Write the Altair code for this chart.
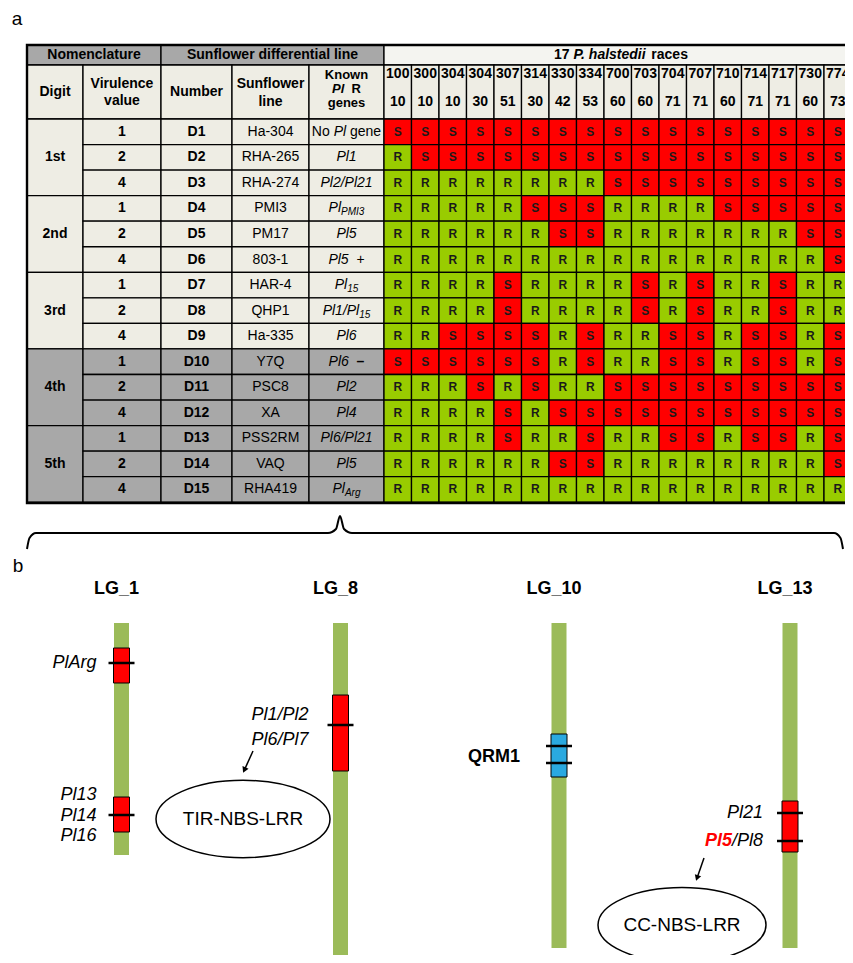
import math
import altair as alt
import pandas as pd

# ------------------------------------------------------------------ data
race_codes = ["100", "300", "304", "304", "307", "314", "330", "334", "700",
              "703", "704", "707", "710", "714", "717", "730", "774"]
race_subs = ["10", "10", "10", "30", "51", "30", "42", "53", "60",
             "60", "71", "71", "60", "71", "71", "60", "73"]
digit_groups = ["1st", "2nd", "3rd", "4th", "5th"]
virulence_values = ["1", "2", "4"] * 5
line_numbers = ["D1", "D2", "D3", "D4", "D5", "D6", "D7", "D8", "D9", "D10",
                "D11", "D12", "D13", "D14", "D15"]
sunflower_lines = ["Ha-304", "RHA-265", "RHA-274", "PMI3", "PM17", "803-1",
                   "HAR-4", "QHP1", "Ha-335", "Y7Q", "PSC8", "XA", "PSS2RM",
                   "VAQ", "RHA419"]
# (text, kind): n normal, i italic, s italic subscript, b bold
known_genes = [
    [("No ", "n"), ("Pl", "i"), (" gene", "n")],
    [("Pl1", "i")],
    [("Pl2/Pl21", "i")],
    [("Pl", "i"), ("PMI3", "s")],
    [("Pl5", "i")],
    [("Pl5", "i"), ("  +", "n")],
    [("Pl", "i"), ("15", "s")],
    [("Pl1/Pl", "i"), ("15", "s")],
    [("Pl6", "i")],
    [("Pl6", "i"), ("  –", "b")],
    [("Pl2", "i")],
    [("Pl4", "i")],
    [("Pl6/Pl21", "i")],
    [("Pl5", "i")],
    [("Pl", "i"), ("Arg", "s")],
]
reactions = [
    "SSSSSSSSSSSSSSSSS",
    "RSSSSSSSSSSSSSSSS",
    "RRRRRRRRSSSSSSSSS",
    "RRRRRSSSRRRRSSSSS",
    "RRRRRRSSRRRRRRRSS",
    "RRRRRRRRRRRRRRRRS",
    "RRRRSRRRRSRSRRSRR",
    "RRRRSRRRRSRSRRSRR",
    "RRSSSSRSRRSSRSSRS",
    "SSSSSSRSRRSSRSSRS",
    "RRRSRSRRSSSSSSSSS",
    "RRRRSRSSSSSSSSSSS",
    "RRRRSRRSRRSSRSSRS",
    "RRRRRRSSRRRRRRRRS",
    "RRRRRRRRRRRRRRRRR",
]

# panel b
lg_names = ["LG_1", "LG_8", "LG_10", "LG_13"]
lg_lengths = [232, 345, 325, 325]
block_lg = ["LG_1", "LG_1", "LG_8", "LG_10", "LG_13"]
block_start = [25, 174, 72, 111, 178]
block_end = [60, 209, 148, 154, 229]
block_type = ["Pl", "Pl", "Pl", "QRM", "Pl"]
marker_lg = ["LG_1", "LG_1", "LG_8", "LG_10", "LG_10", "LG_13", "LG_13"]
marker_pos = [40, 192, 102, 123, 140, 190, 218]
label_lg = ["LG_1", "LG_1", "LG_1", "LG_1", "LG_8", "LG_8", "LG_10", "LG_13", "LG_13"]
label_pos = [40, 172, 193, 213, 92, 117, 134, 190, 218]
label_segs = [
    [("PlArg", "i")], [("Pl13", "i")], [("Pl14", "i")], [("Pl16", "i")],
    [("Pl1/Pl2", "i")], [("Pl6/Pl7", "i")], [("QRM1", "b")],
    [("Pl21", "i")], [("Pl5", "ri"), ("/Pl8", "i")],
]
domain_names = ["TIR-NBS-LRR", "CC-NBS-LRR"]

# ------------------------------------------------------------------ styles / layout
FONT = "Liberation Sans"
GRAY = "#a8a8a8"
LIGHT = "#eeede4"
LIGHT2 = "#f4f4f0"
RED = "#ff0000"
GREEN = "#99cc00"
CHROM = "#9bbb59"
BLUE = "#2aa9e0"

W = 837  # chart width (image x 8 .. 845)
left_edges = [27, 83, 161, 232, 309, 384]
race_w = 27.5
row_top = 119
row_h = 25.55
lg_x = {"LG_1": 121.5, "LG_8": 340.5, "LG_10": 559, "LG_13": 790}
label_off = {"LG_1": -25, "LG_8": -32, "LG_10": -39, "LG_13": -27}
ellipse_xy = [(243, 196, 87), (682, 302, 84)]
arrows = [(253, 128, 243, 150), (704, 235, 696, 258)]

# Arial-metric widths
_up = "ABCDEFGHIJKLMNOPQRSTUVWXYZ"
_lo = "abcdefghijklmnopqrstuvwxyz"
REG = dict(zip(_up, [667, 667, 722, 722, 667, 611, 778, 722, 278, 500, 667, 556, 833,
                     722, 778, 667, 778, 722, 667, 611, 722, 667, 944, 667, 667, 611]))
REG.update(zip(_lo, [556, 556, 500, 556, 556, 278, 556, 556, 222, 222, 500, 222, 833,
                     556, 556, 556, 556, 333, 500, 278, 556, 500, 722, 500, 500, 500]))
BOLD = dict(zip(_up, [722, 722, 722, 722, 667, 611, 778, 722, 278, 556, 722, 611, 833,
                      722, 778, 667, 778, 722, 667, 611, 722, 667, 944, 667, 667, 611]))
BOLD.update(zip(_lo, [556, 611, 556, 611, 556, 333, 611, 611, 278, 278, 556, 278, 889,
                      611, 611, 611, 611, 389, 556, 333, 611, 556, 778, 556, 556, 500]))
for d in (REG, BOLD):
    d.update({" ": 278, "+": 584, "-": 333, "/": 278, ".": 278, ",": 278, "_": 556, "–": 556})
    d.update({c: 556 for c in "0123456789"})


def tw(s, size, weight):
    tab = BOLD if weight == "bold" else REG
    return sum(tab.get(c, 556) for c in s) * size / 1000.0


def put(store, x, y, t, size, weight="normal", style="normal", color="black", align="center"):
    store.append(dict(x=x, y=y, t=t, size=size, weight=weight, style=style,
                      color=color, align=align))


def put_segs(store, x, y, segs, align="center"):
    # segs: (text, size, weight, style, color, dy); edge spaces become offsets
    total = sum(tw(s[0], s[1], s[2]) for s in segs)
    cur = x - total / 2 if align == "center" else x - total
    for t, size, weight, style, color, dy in segs:
        core = t.strip(" ")
        lead = len(t) - len(t.lstrip(" "))
        cur += tw(" " * lead, size, weight)
        put(store, cur, y + dy, core, size, weight, style, color, "left")
        cur += tw(t, size, weight) - tw(" " * lead, size, weight)


def text_layers(store, xs, ys):
    df = pd.DataFrame(store)
    layers = []
    for (w, s, a), g in df.groupby(["weight", "style", "align"]):
        layers.append(
            alt.Chart(g).mark_text(font=FONT, fontWeight=w, fontStyle=s, align=a,
                                   baseline="middle", clip=True).encode(
                x=alt.X("x:Q", scale=xs, axis=None),
                y=alt.Y("y:Q", scale=ys, axis=None),
                text="t:N",
                size=alt.Size("size:Q", scale=None, legend=None),
                color=alt.Color("color:N", scale=None, legend=None),
            )
        )
    return layers


def rect_layer(df, xs, ys, **mk):
    return alt.Chart(df).mark_rect(clip=True, **mk).encode(
        x=alt.X("x:Q", scale=xs, axis=None), x2="x2:Q",
        y=alt.Y("y:Q", scale=ys, axis=None), y2="y2:Q",
        color=alt.Color("fill:N", scale=None, legend=None),
    )


KIND = {"n": (14, "normal", "normal", "black", 0),
        "i": (14, "normal", "italic", "black", 0),
        "s": (10, "normal", "italic", "black", 4),
        "b": (14, "bold", "normal", "black", 0)}

# ------------------------------------------------------------------ panel a
xs_a = alt.Scale(domain=[8, 8 + W], nice=False, zero=False)
ys_a = alt.Scale(domain=[8, 555], nice=False, zero=False, reverse=True)


def rx(j):
    return left_edges[-1] + j * race_w


def ry(i):
    return row_top + i * row_h


race_right = rx(len(race_codes))
cells = [dict(x=27, x2=161, y=45, y2=65, fill=GRAY),
         dict(x=161, x2=384, y=45, y2=65, fill=GRAY),
         dict(x=384, x2=race_right, y=45, y2=65, fill=LIGHT2)]
for k in range(5):
    cells.append(dict(x=left_edges[k], x2=left_edges[k + 1], y=65, y2=row_top, fill=LIGHT))
for j in range(len(race_codes)):
    cells.append(dict(x=rx(j), x2=rx(j + 1), y=65, y2=row_top, fill=LIGHT))
for g in range(len(digit_groups)):
    cells.append(dict(x=left_edges[0], x2=left_edges[1], y=ry(3 * g), y2=ry(3 * g + 3),
                      fill=LIGHT if g < 3 else GRAY))
for i in range(len(line_numbers)):
    for k in range(1, 5):
        cells.append(dict(x=left_edges[k], x2=left_edges[k + 1], y=ry(i), y2=ry(i + 1),
                          fill=LIGHT if i < 9 else GRAY))
grid = []
for i, row in enumerate(reactions):
    for j, r in enumerate(row):
        grid.append(dict(x=rx(j), x2=rx(j + 1), y=ry(i), y2=ry(i + 1),
                         fill=RED if r == "S" else GREEN,
                         cx=rx(j) + race_w / 2, cy=ry(i) + row_h / 2, t=r))
grid_df = pd.DataFrame(grid)

ta = []
put(ta, 17, 19, "a", 19)
put(ta, 94, 55, "Nomenclature", 14, "bold")
put(ta, 272.5, 55, "Sunflower differential line", 14, "bold")
put_segs(ta, 621, 55,
         [("17 ", 14, "bold", "normal", "black", 0),
          ("P. halstedii", 14, "bold", "italic", "black", 0),
          (" races", 14, "bold", "normal", "black", 0)])
cxs = [(left_edges[k] + left_edges[k + 1]) / 2 for k in range(5)]
put(ta, cxs[0], 92, "Digit", 14, "bold")
put(ta, cxs[1], 84, "Virulence", 14, "bold")
put(ta, cxs[1], 101, "value", 14, "bold")
put(ta, cxs[2], 92, "Number", 14, "bold")
put(ta, cxs[3], 84, "Sunflower", 14, "bold")
put(ta, cxs[3], 102, "line", 14, "bold")
put(ta, cxs[4], 75, "Known", 13, "bold")
put_segs(ta, cxs[4], 89, [("Pl", 13, "bold", "italic", "black", 0),
                          ("  R", 13, "bold", "normal", "black", 0)])
put(ta, cxs[4], 103, "genes", 13, "bold")
for j, (c, s) in enumerate(zip(race_codes, race_subs)):
    put(ta, rx(j) + race_w / 2, 74, c, 14, "bold")
    put(ta, rx(j) + race_w / 2, 102, s, 14, "bold")
for g, d in enumerate(digit_groups):
    put(ta, cxs[0], ry(3 * g) + 1.5 * row_h, d, 14, "bold")
for i in range(len(line_numbers)):
    cy = ry(i) + row_h / 2
    put(ta, cxs[1], cy, virulence_values[i], 14, "bold")
    put(ta, cxs[2], cy, line_numbers[i], 14, "bold")
    put(ta, cxs[3], cy, sunflower_lines[i], 14)
    put_segs(ta, cxs[4], cy, [(t,) + KIND[k][:4] + (KIND[k][4],) for t, k in known_genes[i]])

brace = pd.DataFrame(dict(
    bx=[27, 29.5, 36, 328, 336, 340, 344, 352, 834, 840.5, 843],
    by=[549, 538, 533, 533, 529, 516, 529, 533, 533, 538, 549]))

panel_a = alt.layer(
    rect_layer(pd.DataFrame(cells), xs_a, ys_a, stroke="black", strokeWidth=1.3),
    rect_layer(grid_df, xs_a, ys_a, stroke="black", strokeWidth=1.3),
    alt.Chart(pd.DataFrame([dict(x=27, x2=race_right, y=45, y2=503)])).mark_rect(
        clip=True, fillOpacity=0, stroke="black", strokeWidth=2.4).encode(
        x=alt.X("x:Q", scale=xs_a, axis=None), x2="x2:Q",
        y=alt.Y("y:Q", scale=ys_a, axis=None), y2="y2:Q"),
    alt.Chart(grid_df).mark_text(font=FONT, fontWeight="bold", fontSize=12,
                                 color="#1a1a1a", clip=True, baseline="middle").encode(
        x=alt.X("cx:Q", scale=xs_a, axis=None),
        y=alt.Y("cy:Q", scale=ys_a, axis=None), text="t:N"),
    alt.Chart(brace).mark_line(color="black", strokeWidth=2, interpolate="monotone",
                               clip=True).encode(
        x=alt.X("bx:Q", scale=xs_a, axis=None),
        y=alt.Y("by:Q", scale=ys_a, axis=None)),
    *text_layers(ta, xs_a, ys_a),
).properties(width=W, height=547)

# ------------------------------------------------------------------ panel b
xs_b = alt.Scale(domain=[8, 8 + W], nice=False, zero=False)
ys_b = alt.Scale(domain=[-68, 332], nice=False, zero=False, reverse=True)

chrom = pd.DataFrame([dict(x=lg_x[n] - 7.5, x2=lg_x[n] + 7.5, y=0, y2=L, fill=CHROM)
                      for n, L in zip(lg_names, lg_lengths)])
blocks = pd.DataFrame([dict(x=lg_x[n] - 8, x2=lg_x[n] + 8, y=s, y2=e,
                            fill=BLUE if t == "QRM" else RED)
                       for n, s, e, t in zip(block_lg, block_start, block_end, block_type)])
markers = pd.DataFrame([dict(x=lg_x[n] - 13, x2=lg_x[n] + 13, y=p)
                        for n, p in zip(marker_lg, marker_pos)])

arr_rows, head_rows = [], []
for x0, y0, x1, y1 in arrows:
    L = math.hypot(x1 - x0, y1 - y0)
    ux, uy = (x1 - x0) / L, (y1 - y0) / L
    hx, hy = x1 - 3.2 * ux, y1 - 3.2 * uy
    arr_rows.append(dict(x=x0, y=y0, x2=hx, y2=hy))
    head_rows.append(dict(x=hx, y=hy, ang=math.degrees(math.atan2(-ux, uy)) % 360))

ell = pd.DataFrame([dict(x=x, y=y, size=(2 * r) ** 2) for x, y, r in ellipse_xy])
k = 0.445
c = 0.5523
ELLIPSE = (f"M-1,0C-1,{-c*k:.4f},{-c:.4f},{-k},0,{-k}C{c:.4f},{-k},1,{-c*k:.4f},1,0"
           f"C1,{c*k:.4f},{c:.4f},{k},0,{k}C{-c:.4f},{k},-1,{c*k:.4f},-1,0Z")

tb = []
put(tb, 18, -57, "b", 19)
for n in lg_names:
    put(tb, lg_x[n] - 5, -34, n, 18, "bold")
LKIND = {"i": (18, "normal", "italic", "black", 0),
         "b": (18, "bold", "normal", "black", 0),
         "ri": (18, "bold", "italic", RED, 0)}
for n, p, segs in zip(label_lg, label_pos, label_segs):
    put_segs(tb, lg_x[n] + label_off[n], p,
             [(t,) + LKIND[kk][:4] + (LKIND[kk][4],) for t, kk in segs], align="right")
for (x, y, r), name in zip(ellipse_xy, domain_names):
    put(tb, x, y, name, 19)

panel_b = alt.layer(
    rect_layer(chrom, xs_b, ys_b),
    rect_layer(blocks, xs_b, ys_b, stroke="black", strokeWidth=1),
    alt.Chart(markers).mark_rule(color="black", strokeWidth=2.5, clip=True).encode(
        x=alt.X("x:Q", scale=xs_b, axis=None), x2="x2:Q",
        y=alt.Y("y:Q", scale=ys_b, axis=None)),
    alt.Chart(pd.DataFrame(arr_rows)).mark_rule(color="black", strokeWidth=1.5,
                                                clip=True).encode(
        x=alt.X("x:Q", scale=xs_b, axis=None), x2="x2:Q",
        y=alt.Y("y:Q", scale=ys_b, axis=None), y2="y2:Q"),
    alt.Chart(pd.DataFrame(head_rows)).mark_point(shape="triangle-down", filled=True,
                                                  color="black", size=45, opacity=1,
                                                  clip=True).encode(
        x=alt.X("x:Q", scale=xs_b, axis=None),
        y=alt.Y("y:Q", scale=ys_b, axis=None),
        angle=alt.Angle("ang:Q", scale=None)),
    alt.Chart(ell).mark_point(shape=ELLIPSE, filled=False, color="black",
                              strokeWidth=1.5, opacity=1, clip=True).encode(
        x=alt.X("x:Q", scale=xs_b, axis=None),
        y=alt.Y("y:Q", scale=ys_b, axis=None),
        size=alt.Size("size:Q", scale=None, legend=None)),
    *text_layers(tb, xs_b, ys_b),
).properties(width=W, height=400)

chart = alt.vconcat(panel_a, panel_b, spacing=0).properties(padding=0).configure_view(
    stroke=None)
chart.save("out.html", embed_options={"renderer": "svg", "actions": False})
